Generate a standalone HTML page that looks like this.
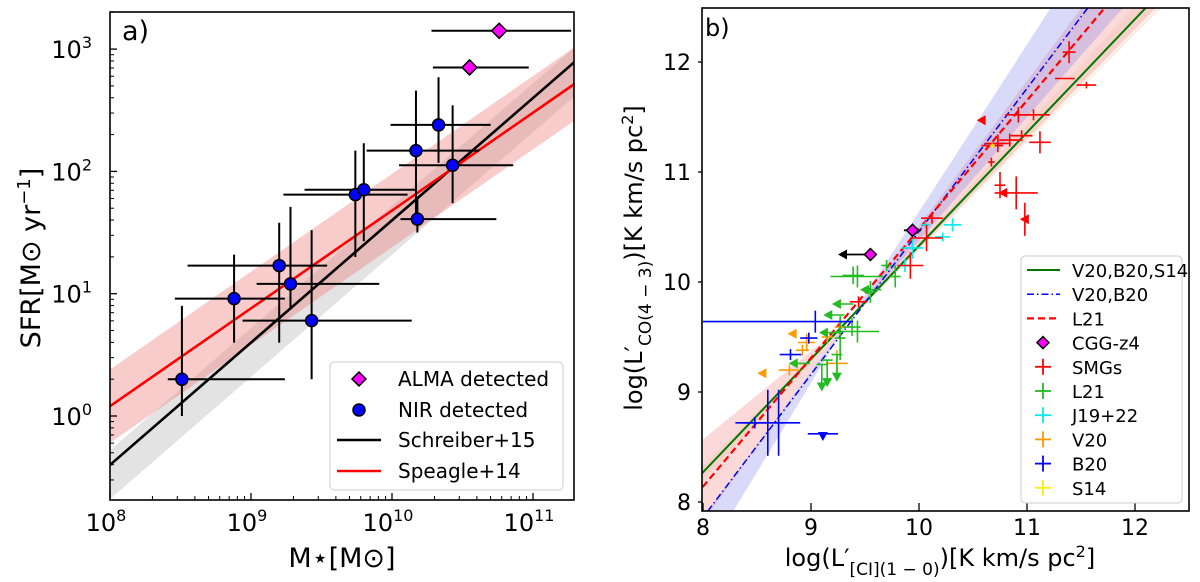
<!DOCTYPE html>
<html><head><meta charset="utf-8"><style>
html,body{margin:0;padding:0;background:#fff;}
svg{display:block;font-family:"DejaVu Sans","Liberation Sans",sans-serif;}
</style></head><body>
<svg id="chart" width="1200" height="582" viewBox="0 0 1200 582" xmlns="http://www.w3.org/2000/svg">
<defs>
<clipPath id="clipA"><rect x="110" y="12" width="464" height="488"/></clipPath>
<clipPath id="clipB"><rect x="702" y="8" width="487" height="503"/></clipPath>
</defs>
<g id="panelA"></g>
<g id="panelB"></g>
</svg>
<script>
// ---------- Panel a data (log10 values) ----------
const nirLogM   = [8.51, 8.88, 9.20, 9.28, 9.43, 9.74, 9.80, 10.17, 10.18, 10.33, 10.43];
const nirLogSFR = [0.30, 0.96, 1.23, 1.08, 0.78, 1.81, 1.85, 2.17, 1.61, 2.38, 2.05];
const nirMLo    = [8.41, 8.46, 8.55, 9.04, 8.94, 9.23, 9.38, 9.82, 10.06, 9.99, 10.05];
const nirMHi    = [9.24, 9.24, 9.54, 9.91, 10.14, 10.11, 10.17, 10.62, 10.74, 10.70, 10.86];
const nirSLo    = [0.00, 0.60, 0.60, 0.87, 0.30, 1.30, 1.43, 1.66, 1.50, 2.07, 1.74];
const nirSHi    = [0.90, 1.32, 1.58, 1.71, 1.52, 2.17, 2.23, 2.66, 1.79, 2.77, 2.54];
const almaLogM   = [10.76, 10.55];
const almaLogSFR = [3.15, 2.85];
const almaMLo    = [10.28, 10.29];
const almaMHi    = [11.27, 10.97];
const schreiberFit = [-0.40, 1.00]; // intercept at logM=8, slope
const speagleFit   = [0.08, 0.80];
const aXTicks = [8, 9, 10, 11];
const aYTicks = [0, 1, 2, 3];

// ---------- Panel b data ----------
const smgX  = [11.39,11.35,11.55,10.92,11.06,10.73,10.84,10.95,11.12,10.68,10.67,10.75,10.90,10.78,10.58,10.98,10.07,9.92,10.12,9.44];
const smgY  = [12.09,11.85,11.79,11.52,11.52,11.26,11.29,11.33,11.27,11.24,11.09,10.88,10.81,10.81,11.47,10.57,10.40,10.15,10.58,9.82];
const smgXe = [0.06,0.09,0.09,0.12,0.15,0.12,0.10,0.10,0.10,0.10,0.03,0.05,0.20,0,0,0,0.15,0.12,0.10,0.08];
const smgYe = [0.10,0.00,0.03,0.07,0.05,0.08,0.06,0.05,0.10,0.00,0.04,0.12,0.15,0,0,0.15,0.12,0.12,0.05,0.05];
const smgLim= ['','','','','','','','','','','','','','t','t','t','','','',''];
const l21X  = [9.43,9.39,9.70,9.78,9.55,9.43,9.38,9.27,9.39,9.31,9.27,8.99,9.65,9.24,9.15,9.10];
const l21Y  = [10.05,10.06,10.15,10.05,9.91,9.55,9.59,9.49,9.80,9.70,9.54,9.26,9.93,9.34,9.29,9.25];
const l21Xe = [0.25,0.10,0.05,0.05,0.05,0.20,0.08,0.05,0,0,0,0,0,0.05,0.05,0.05];
const l21Ye = [0.10,0.08,0.05,0.10,0.10,0.10,0.08,0.20,0,0,0,0,0,0,0,0];
const l21Lim= ['','','','','','','','','l','l','l','l','l','d','d','d'];
const jX  = [10.31,10.22,10.06,9.94,9.87];
const jY  = [10.52,10.41,10.52,10.31,10.15];
const jXe = [0.08,0.07,0.04,0.10,0.06];
const jYe = [0.06,0.04,0.03,0.10,0.06];
const vX  = [9.27,8.96,8.92,9.24,8.80,9.15,8.83,8.55];
const vY  = [9.59,9.45,9.38,9.26,9.20,9.50,9.53,9.17];
const vXe = [0.05,0.08,0.06,0.10,0.10,0.05,0,0];
const vYe = [0.08,0.08,0.05,0.12,0.05,0.05,0,0];
const vLim= ['','','','','','','t','t'];
const bX  = [9.04,8.98,8.81,8.48,8.60,8.70,9.11];
const bY  = [9.64,9.49,9.34,8.72,8.72,8.72,8.62];
const bXe = [0.75,0.08,0.10,0.12,0.30,0.05,0.14];
const bYe = [0.10,0.05,0.05,0.05,0.30,0.30,0];
const bLim= ['','','','','','','d'];
const sX = [10.68], sY = [11.24], sXe = [0.02], sYe = [0.02];
const cggX = [9.94, 9.55];
const cggY = [10.47, 10.25];
const cggLim = ['', 'l'];
const fitGreen = [10.33, 1.03]; // value at x=10, slope
const fitBlue  = [10.46, 1.30];
const fitRed   = [10.48, 1.17];
const bXTicks = [8, 9, 10, 11, 12];
const bYTicks = [8, 9, 10, 11, 12];

const NS = "http://www.w3.org/2000/svg";
function mk(parent, tag, attrs, text){
  const e = document.createElementNS(NS, tag);
  for (const k in attrs) e.setAttribute(k, attrs[k]);
  if (text !== undefined) e.textContent = text;
  parent.appendChild(e);
  return e;
}
const xA = l => 110 + (l - 8) * 141;
const yA = l => 416 - l * 122.3;
const xB = v => 703 + (v - 8) * 108;
const yB = v => 282 - (v - 10) * 110;

// ================= Panel A =================
const A = document.getElementById('panelA');
const aPlot = mk(A, 'g', {'clip-path':'url(#clipA)'});


function band(g, f, lo, hi, x0, x1, fill, op, name){
  let pts = [];
  for (let x = x0; x <= x1 + 1e-9; x += 0.1) pts.push(xA(x) + ',' + yA(f(x) + hi));
  for (let x = x1; x >= x0 - 1e-9; x -= 0.1) pts.push(xA(x) + ',' + yA(f(x) + lo));
  const p = mk(g, 'polygon', {points: pts.join(' '), fill: fill, 'fill-opacity': op});
  
  
}
const fS = x => schreiberFit[0] + schreiberFit[1] * (x - 8);
const fP = x => speagleFit[0] + speagleFit[1] * (x - 8);
band(aPlot, fS, -0.28, 0.12, 7.9, 11.4, '#b0b0b0', 0.35, 'schreiber-band');
band(aPlot, fP, -0.30, 0.30, 7.9, 11.4, '#f08080', 0.4, 'speagle-band');
const ls = mk(aPlot, 'line', {x1: xA(7.9), y1: yA(fS(7.9)), x2: xA(11.4), y2: yA(fS(11.4)), stroke: '#000', 'stroke-width': 2.6});


const lp = mk(aPlot, 'line', {x1: xA(7.9), y1: yA(fP(7.9)), x2: xA(11.4), y2: yA(fP(11.4)), stroke: '#ff0000', 'stroke-width': 2.6});


for (let i = 0; i < nirLogM.length; i++){
  const g = mk(aPlot, 'g', {});
  
  
  mk(g, 'line', {x1: xA(nirMLo[i]), x2: xA(nirMHi[i]), y1: yA(nirLogSFR[i]), y2: yA(nirLogSFR[i]), stroke: '#000', 'stroke-width': 2});
  mk(g, 'line', {x1: xA(nirLogM[i]), x2: xA(nirLogM[i]), y1: yA(nirSLo[i]), y2: yA(nirSHi[i]), stroke: '#000', 'stroke-width': 2});
}
for (let i = 0; i < nirLogM.length; i++){
  const c = mk(aPlot, 'circle', {cx: xA(nirLogM[i]), cy: yA(nirLogSFR[i]), r: 6, fill: '#0000ff', stroke: '#000', 'stroke-width': 1.5});
  
  
}
for (let i = 0; i < almaLogM.length; i++){
  const g = mk(aPlot, 'g', {});
  
  
  const cx = xA(almaLogM[i]), cy = yA(almaLogSFR[i]);
  mk(g, 'line', {x1: xA(almaMLo[i]), x2: xA(almaMHi[i]), y1: cy, y2: cy, stroke: '#000', 'stroke-width': 2});
  mk(g, 'polygon', {points: `${cx},${cy-7.5} ${cx+7.5},${cy} ${cx},${cy+7.5} ${cx-7.5},${cy}`, fill: '#ff00ff', stroke: '#000', 'stroke-width': 1.5});
}
// axes A
const axA = mk(A, 'g', {});


mk(axA, 'rect', {x: 110, y: 12, width: 464, height: 488, fill: 'none', stroke: '#000', 'stroke-width': 1.6});
for (let d = 8; d <= 11; d++){
  for (let k = 2; k <= 9; k++){
    const l = d + Math.log10(k);
    if (xA(l) < 574) mk(axA, 'line', {x1: xA(l), x2: xA(l), y1: 500, y2: 496, stroke: '#000', 'stroke-width': 1});
  }
}
for (let d = -1; d <= 3; d++){
  for (let k = 2; k <= 9; k++){
    const l = d + Math.log10(k);
    if (yA(l) > 12 && yA(l) < 500) mk(axA, 'line', {x1: 110, x2: 114, y1: yA(l), y2: yA(l), stroke: '#000', 'stroke-width': 1});
  }
}
aXTicks.forEach(t => {
  mk(axA, 'line', {x1: xA(t), x2: xA(t), y1: 500, y2: 493, stroke: '#000', 'stroke-width': 1.3});
  const tx = mk(axA, 'text', {x: xA(t) - 4, y: 531, 'text-anchor': 'middle', 'font-size': 24});
  
  
  mk(tx, 'tspan', {}, '10');
  mk(tx, 'tspan', {dy: -10, 'font-size': 16}, String(t));
});
aYTicks.forEach(t => {
  mk(axA, 'line', {x1: 110, x2: 117, y1: yA(t), y2: yA(t), stroke: '#000', 'stroke-width': 1.3});
  const tx = mk(axA, 'text', {x: 92, y: yA(t) + 9, 'text-anchor': 'end', 'font-size': 24});
  
  
  mk(tx, 'tspan', {}, '10');
  mk(tx, 'tspan', {dy: -10, 'font-size': 16}, String(t));
});
const xla = mk(axA, 'text', {x: 342, y: 567, 'text-anchor': 'middle', 'font-size': 27}, 'M⋆[M⊙]');


const yla = mk(axA, 'text', {x: 0, y: 0, 'text-anchor': 'middle', 'font-size': 27, transform: 'translate(40,258) rotate(-90)'});


mk(yla, 'tspan', {}, 'SFR[M⊙ yr');
mk(yla, 'tspan', {dy: -10, 'font-size': 18}, '−1');
mk(yla, 'tspan', {dy: 10}, ']');
const pa = mk(axA, 'text', {x: 122, y: 40, 'font-size': 27}, 'a)');


// legend A
const lgA = mk(A, 'g', {});


mk(lgA, 'rect', {x: 330, y: 362, width: 233, height: 128, rx: 4, fill: '#fff', 'fill-opacity': 0.85, stroke: '#ccc', 'stroke-width': 1});
const leA = [['ALMA detected', 379], ['NIR detected', 410], ['Schreiber+15', 440], ['Speagle+14', 471]];
leA.forEach((e, i) => {
  const g = mk(lgA, 'g', {});
  
  
  const y = e[1];
  if (i === 0) mk(g, 'polygon', {points: `359,${y-7} 366,${y} 359,${y+7} 352,${y}`, fill: '#ff00ff', stroke: '#000', 'stroke-width': 1.5});
  if (i === 1) mk(g, 'circle', {cx: 359, cy: y, r: 6, fill: '#0000ff', stroke: '#000', 'stroke-width': 1.5});
  if (i === 2) mk(g, 'line', {x1: 337, x2: 381, y1: y, y2: y, stroke: '#000', 'stroke-width': 2.6});
  if (i === 3) mk(g, 'line', {x1: 337, x2: 381, y1: y, y2: y, stroke: '#ff0000', 'stroke-width': 2.6});
  mk(g, 'text', {x: 398, y: y + 7, 'font-size': 20}, e[0]);
});

// ================= Panel B =================
const B = document.getElementById('panelB');
const bPlot = mk(B, 'g', {'clip-path':'url(#clipB)'});


const PX = 9.35, PY = 9.65;
function fan(lsL, lsR, hsL, hsR){
  const pts = [];
  [7.8, PX, 12.6].forEach(x => { const s = x < PX ? hsL : hsR; pts.push(xB(x) + ',' + yB(PY + s * (x - PX))); });
  [12.6, PX, 7.8].forEach(x => { const s = x < PX ? lsL : lsR; pts.push(xB(x) + ',' + yB(PY + s * (x - PX))); });
  return pts.join(' ');
}
const pinkBand = mk(bPlot, 'polygon', {points: fan(1.35, 1.0, 0.8, 1.32), fill: '#f4a0a0', 'fill-opacity': 0.4});


const blueBand = mk(bPlot, 'polygon', {points: fan(1.62, 1.12, 1.33, 1.52), fill: '#8080f0', 'fill-opacity': 0.3});


const greenBand = mk(bPlot, 'polygon', {points: fan(1.08, 0.98, 0.98, 1.08), fill: '#f0c0a0', 'fill-opacity': 0.25});


function fitLine(f, color, dash, w, name){
  const l = mk(bPlot, 'line', {x1: xB(7.8), y1: yB(f[0] + f[1] * (7.8 - 10)), x2: xB(12.6), y2: yB(f[0] + f[1] * (12.6 - 10)), stroke: color, 'stroke-width': w, 'stroke-dasharray': dash});
  
  
}
fitLine(fitGreen, '#007700', 'none', 2, 'fit-line-v20-b20-s14');
fitLine(fitBlue, '#0000ff', '7,3,1.5,3', 1.5, 'fit-line-v20-b20');
fitLine(fitRed, '#ff0000', '7,4', 2.2, 'fit-line-l21');

const ARW = 0.15;
function triL(g, x, y, c){ mk(g, 'polygon', {points: `${x-5},${y} ${x+4},${y-5} ${x+4},${y+5}`, fill: c}); }
function triD(g, x, y, c){ mk(g, 'polygon', {points: `${x},${y+5} ${x-5},${y-4} ${x+5},${y-4}`, fill: c}); }
function series(X, Y, Xe, Ye, Lim, color, name){
  for (let i = 0; i < X.length; i++){
    const g = mk(bPlot, 'g', {});
    
    
    const cx = xB(X[i]), cy = yB(Y[i]), lim = Lim ? Lim[i] : '';
    const xlo = (name === 'b20-point' && i === 0) ? X[i] - 1.04 : X[i] - Xe[i];
    const xhi = (name === 'b20-point' && i === 0) ? X[i] + 0.35 : X[i] + Xe[i];
    if (Xe[i] > 0) mk(g, 'line', {x1: xB(xlo), x2: xB(xhi), y1: cy, y2: cy, stroke: color, 'stroke-width': 1.6});
    if (Ye[i] > 0) mk(g, 'line', {x1: cx, x2: cx, y1: yB(Y[i] - Ye[i]), y2: yB(Y[i] + Ye[i]), stroke: color, 'stroke-width': 1.6});
    if (lim === 'l'){
      mk(g, 'line', {x1: cx, x2: xB(X[i] - ARW), y1: cy, y2: cy, stroke: color, 'stroke-width': 1.6});
      triL(g, xB(X[i] - ARW), cy, color);
    } else if (lim === 'd'){
      const len = name === 'b20-point' ? 0.02 : 0.2;
      mk(g, 'line', {x1: cx, x2: cx, y1: cy, y2: yB(Y[i] - len), stroke: color, 'stroke-width': 1.6});
      triD(g, cx, yB(Y[i] - len), color);
    } else if (lim === 't'){
      triL(g, cx, cy, color);
    }
  }
}
series(vX, vY, vXe, vYe, vLim, '#ff9900', 'v20-point');
series(l21X, l21Y, l21Xe, l21Ye, l21Lim, '#22bb22', 'l21-point');
series(bX, bY, bXe, bYe, bLim, '#0000ff', 'b20-point');
series(jX, jY, jXe, jYe, null, '#00eeee', 'j19-point');
series(smgX, smgY, smgXe, smgYe, smgLim, '#ff0000', 'smg-point');
series(sX, sY, sXe, sYe, null, '#ffee00', 's14-point');
for (let i = 0; i < cggX.length; i++){
  const g = mk(bPlot, 'g', {});
  
  
  const cx = xB(cggX[i]), cy = yB(cggY[i]);
  if (cggLim[i] === 'l'){
    mk(g, 'line', {x1: cx, x2: xB(cggX[i] - 0.27), y1: cy, y2: cy, stroke: '#000', 'stroke-width': 1.8});
    mk(g, 'polygon', {points: `${xB(cggX[i]-0.3)},${cy} ${xB(cggX[i]-0.3)+9},${cy-5} ${xB(cggX[i]-0.3)+9},${cy+5}`, fill: '#000'});
  } else {
    mk(g, 'line', {x1: xB(cggX[i] - 0.08), x2: xB(cggX[i] + 0.08), y1: cy, y2: cy, stroke: '#000', 'stroke-width': 1.8});
  }
  mk(g, 'polygon', {points: `${cx},${cy-6} ${cx+6},${cy} ${cx},${cy+6} ${cx-6},${cy}`, fill: '#ff00ff', stroke: '#000', 'stroke-width': 1.5});
}
// axes B
const axB = mk(B, 'g', {});


mk(axB, 'rect', {x: 702, y: 8, width: 487, height: 503, fill: 'none', stroke: '#000', 'stroke-width': 1.6});
bXTicks.forEach(t => {
  mk(axB, 'line', {x1: xB(t), x2: xB(t), y1: 511, y2: 503, stroke: '#000', 'stroke-width': 1.3});
  const tx = mk(axB, 'text', {x: xB(t), y: 535, 'text-anchor': 'middle', 'font-size': 22}, String(t));
  
  
});
bYTicks.forEach(t => {
  mk(axB, 'line', {x1: 702, x2: 698, y1: yB(t), y2: yB(t), stroke: '#000', 'stroke-width': 1.3});
  const tx = mk(axB, 'text', {x: 691, y: yB(t) + 8, 'text-anchor': 'end', 'font-size': 22}, String(t));
  
  
});
const xlb = mk(axB, 'text', {x: 940, y: 566, 'text-anchor': 'middle', 'font-size': 24});


mk(xlb, 'tspan', {}, 'log(L′');
mk(xlb, 'tspan', {dy: 9, 'font-size': 17}, '[CI](1 − 0)');
mk(xlb, 'tspan', {dy: -9}, ')[K km/s pc');
mk(xlb, 'tspan', {dy: -9, 'font-size': 16}, '2');
mk(xlb, 'tspan', {dy: 9}, ']');
const ylb = mk(axB, 'text', {x: 0, y: 0, 'text-anchor': 'middle', 'font-size': 24, transform: 'translate(642,258) rotate(-90)'});


mk(ylb, 'tspan', {}, 'log(L′');
mk(ylb, 'tspan', {dy: 9, 'font-size': 17}, 'CO(4 − 3)');
mk(ylb, 'tspan', {dy: -9}, ')[K km/s pc');
mk(ylb, 'tspan', {dy: -9, 'font-size': 16}, '2');
mk(ylb, 'tspan', {dy: 9}, ']');
const pb = mk(axB, 'text', {x: 705, y: 36, 'font-size': 24}, 'b)');


// legend B
const lgB = mk(B, 'g', {});


mk(lgB, 'rect', {x: 1021, y: 256, width: 161, height: 247, rx: 4, fill: '#fff', 'fill-opacity': 0.85, stroke: '#ccc', 'stroke-width': 1});
const leB = [['V20,B20,S14','#007700','solid'],['V20,B20','#0000ff','dashdot'],['L21','#ff0000','dash'],['CGG-z4','#ff00ff','diamond'],['SMGs','#ff0000','cross'],['L21','#22bb22','cross'],['J19+22','#00eeee','cross'],['V20','#ff9900','cross'],['B20','#0000ff','cross'],['S14','#ffee00','cross']];
leB.forEach((e, i) => {
  const y = 270 + i * 24.2;
  const g = mk(lgB, 'g', {});
  
  
  if (e[2] === 'solid') mk(g, 'line', {x1: 1027, x2: 1060, y1: y, y2: y, stroke: e[1], 'stroke-width': 2});
  if (e[2] === 'dashdot') mk(g, 'line', {x1: 1027, x2: 1060, y1: y, y2: y, stroke: e[1], 'stroke-width': 1.5, 'stroke-dasharray': '7,3,1.5,3'});
  if (e[2] === 'dash') mk(g, 'line', {x1: 1027, x2: 1060, y1: y, y2: y, stroke: e[1], 'stroke-width': 2.2, 'stroke-dasharray': '7,4'});
  if (e[2] === 'diamond') mk(g, 'polygon', {points: `1043,${y-6} 1049,${y} 1043,${y+6} 1037,${y}`, fill: e[1], stroke: '#000', 'stroke-width': 1.5});
  if (e[2] === 'cross'){
    mk(g, 'line', {x1: 1035, x2: 1051, y1: y, y2: y, stroke: e[1], 'stroke-width': 1.8});
    mk(g, 'line', {x1: 1043, x2: 1043, y1: y - 8, y2: y + 8, stroke: e[1], 'stroke-width': 1.8});
  }
  mk(g, 'text', {x: 1072, y: y + 7, 'font-size': 18}, e[0]);
});
</script>
</body></html>
